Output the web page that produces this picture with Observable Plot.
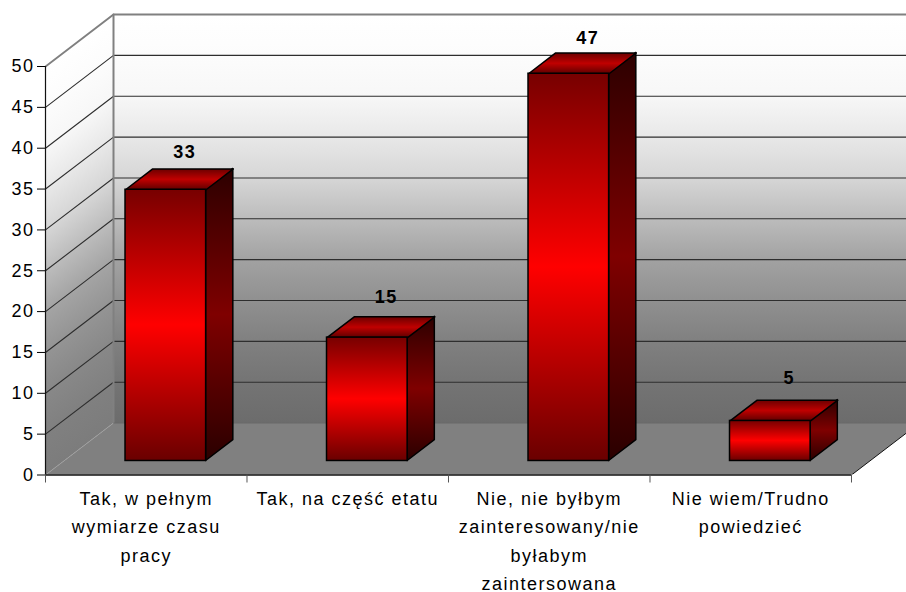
<!DOCTYPE html>
<html lang="pl">
<head>
<meta charset="utf-8">
<style>
  html, body { margin: 0; padding: 0; background: #fff; overflow: hidden; }
  svg { display: block; }
</style>
<script src="https://cdn.jsdelivr.net/npm/d3@7"></script>
<script src="https://cdn.jsdelivr.net/npm/@observablehq/plot@0.6"></script>
</head>
<body>
<div id="chart"></div>
<script>
const categories = ["Tak, w pełnym\nwymiarze czasu\npracy", "Tak, na część etatu", "Nie, nie byłbym\nzainteresowany/nie\nbyłabym\nzaintersowana", "Nie wiem/Trudno\npowiedzieć"];
const valueLabels = ["33", "15", "47", "5"];
const barHeights = [33.2, 15.1, 47.4, 4.9];
const labelLift = [2.0, 2.45, 1.85, 2.7];
const yTicks = [0, 5, 10, 15, 20, 25, 30, 35, 40, 45, 50];
const xTicks = [0, 1, 2, 3, 4];
const font = "'Liberation Sans', Arial, sans-serif";

// oblique projection: depth 0 = front plane, depth 1 = back wall
const depthX = 0.3375, depthY = 6.36;
const px = (c, d) => c + d * depthX;
const py = (v, d) => v + d * depthY;
const xMax = 4.273, yMax = 58.08;
const barInset = 0.306, barWidth = 0.4, barFront = 0.27, barBack = 0.67;

const wall = [[0, 0], [4.6, 0], [4.6, 50], [0, 50]].map(([c, v]) => ({x: c + (c === 0 ? depthX : 0), y: py(v, 1)}));
const side = [[0, 0], [1, 0], [1, 50], [0, 50]].map(([d, v]) => ({x: px(0, d), y: py(v, d)}));
const floor = [[0, 0], [4, 0], [4, 1], [0, 1]].map(([c, d]) => ({x: px(c, d), y: py(0, d)}));
const floorRight = [[4, 0], [4, 1]].map(([c, d]) => ({x: px(c, d), y: py(0, d)}));
const grids = yTicks.filter(v => v > 0).flatMap(v => [
  {v, x: px(0, 0), y: py(v, 0)}, {v, x: px(0, 1), y: py(v, 1)}, {v, x: 4.6, y: py(v, 1)}
]);
const boxes = barHeights.map((v, i) => ({v, x1: i + barInset + barFront * depthX, x2: i + barInset + barFront * depthX + barWidth, i}));
const sides = boxes.flatMap(b => [barFront, barBack].map(d => ({
  i: b.i, x: b.x2 + (d - barFront) * depthX, y1: py(0, d), y2: py(b.v, d)
})));
const tops = boxes.flatMap(b => [[b.x1, barFront], [b.x2, barFront], [b.x2, barBack], [b.x1, barBack], [b.x1, barFront]].map(([c, d]) => ({
  i: b.i, x: c + (d - barFront) * depthX, y: py(b.v, d)
})));
const barLabels = boxes.map((b, i) => ({text: valueLabels[i], x: (b.x1 + b.x2) / 2 + 0.094, y: py(b.v, barBack) + labelLift[i]}));

function grad(id, stops, x2 = 0, y2 = 1, y1 = 0) {
  return `<linearGradient id="${id}" x1="0" y1="${y1}" x2="${x2}" y2="${y2}">` +
    stops.map(([o, c]) => `<stop offset="${o}" stop-color="${c}"/>`).join("") + `</linearGradient>`;
}
const wallStops = [[0, "#ffffff"], [0.1, "#fcfcfc"], [0.2, "#f7f7f7"], [0.3, "#e8e8e8"], [0.4, "#d6d6d6"], [0.5, "#bcbcbc"], [0.6, "#a2a2a2"], [0.7, "#909090"], [0.8, "#808080"], [0.9, "#747474"], [1, "#6c6c6c"]];
const sideStops = [[0, "#ffffff"], [0.1, "#fcfcfc"], [0.2, "#f7f7f7"], [0.3, "#e8e8e8"], [0.4, "#d6d6d6"], [0.5, "#bcbcbc"], [0.6, "#a4a4a4"], [0.7, "#949494"], [0.8, "#888888"], [0.9, "#808080"], [1, "#7c7c7c"]];
const defs = () => {
  const g = document.createElementNS("http://www.w3.org/2000/svg", "defs");
  g.innerHTML =
    grad("wallFill", wallStops) +
    grad("sideFill", sideStops, 0.099, 0.989, 0.113) +
    grad("barFront", [[0, "#770000"], [0.5, "#ff0000"], [1, "#6a0000"]]) +
    grad("barSide", [[0, "#2c0000"], [0.5, "#7f0000"], [1, "#2a0000"]]) +
    grad("barTop", [[0, "#6c0000"], [0.5, "#c00000"], [1, "#5e0000"]]);
  return g;
};

const chart = Plot.plot({
  width: 906, height: 592,
  marginLeft: 45, marginRight: 0, marginTop: 0, marginBottom: 117.5,
  style: {background: "#fff", fontFamily: font, letterSpacing: "1.5px"},
  x: {domain: [0, xMax], axis: null},
  y: {domain: [0, yMax], axis: null},
  marks: [
    defs,
    Plot.line(wall, {x: "x", y: "y", fill: "url(#wallFill)", stroke: "none", clip: true}),
    Plot.line(side, {x: "x", y: "y", fill: "url(#sideFill)", stroke: "none"}),
    Plot.line(floor, {x: "x", y: "y", fill: "#808080", stroke: "none", clip: true}),
    // gridlines
    Plot.line(grids.filter(d => d.v < 50), {x: "x", y: "y", z: "v", stroke: "#2e2e2e", strokeWidth: 1.1, clip: true}),
    Plot.line(grids.filter(d => d.v === 50), {x: "x", y: "y", stroke: "#808080", strokeWidth: 2, clip: true}),
    // wall and floor edges
    Plot.line([{x: px(0, 1), y: py(0, 1)}, {x: px(0, 1), y: py(50, 1)}], {x: "x", y: "y", stroke: "#808080", strokeWidth: 2}),
    Plot.line([{x: px(0, 1), y: py(0, 1)}, {x: xMax, y: py(0, 1)}], {x: "x", y: "y", stroke: "#6a6a6a", strokeWidth: 1}),
    Plot.line([{x: px(0, 0), y: py(0, 0)}, {x: px(0, 1), y: py(0, 1)}], {x: "x", y: "y", stroke: "#a0a0a0", strokeWidth: 1, strokeDasharray: "1,1"}),
    Plot.line(floorRight, {x: "x", y: "y", stroke: "#111", strokeWidth: 1, clip: true}),
    // bars
    Plot.areaY(sides, {x: "x", y1: "y1", y2: "y2", z: "i", fill: "url(#barSide)", stroke: "#000", strokeWidth: 1.5}),
    Plot.line(tops, {x: "x", y: "y", z: "i", fill: "url(#barTop)", stroke: "#000", strokeWidth: 1.5}),
    Plot.rect(boxes, {x1: "x1", x2: "x2", y1: () => py(0, barFront), y2: d => py(d.v, barFront), fill: "url(#barFront)", stroke: "#000", strokeWidth: 1.5}),
    // axes
    Plot.ruleX([0], {y1: 0, y2: 50, stroke: "#111", strokeWidth: 1.2}),
    Plot.ruleY([0], {x1: 0, x2: 4, stroke: "#111", strokeWidth: 1.5}),
    Plot.axisY({ticks: yTicks, tickSize: 8, tickPadding: 3, fontSize: 18, label: null, color: "#000", tickFormat: d => String(d)}),
    Plot.axisX({ticks: xTicks, tickSize: 8, tickFormat: () => "", label: null, stroke: "#555"}),
    Plot.text(categories, {
      x: (d, i) => i + 0.5, y: () => 0, text: d => d,
      dy: 10, lineAnchor: "top", lineHeight: 1.57, textAnchor: "middle",
      fontSize: 18, fill: "#000"
    }),
    Plot.text(barLabels, {x: "x", y: "y", text: "text", fontSize: 18, fontWeight: "bold", fill: "#000", textAnchor: "middle"})
  ]
});
document.getElementById("chart").append(chart);
</script>
</body>
</html>
